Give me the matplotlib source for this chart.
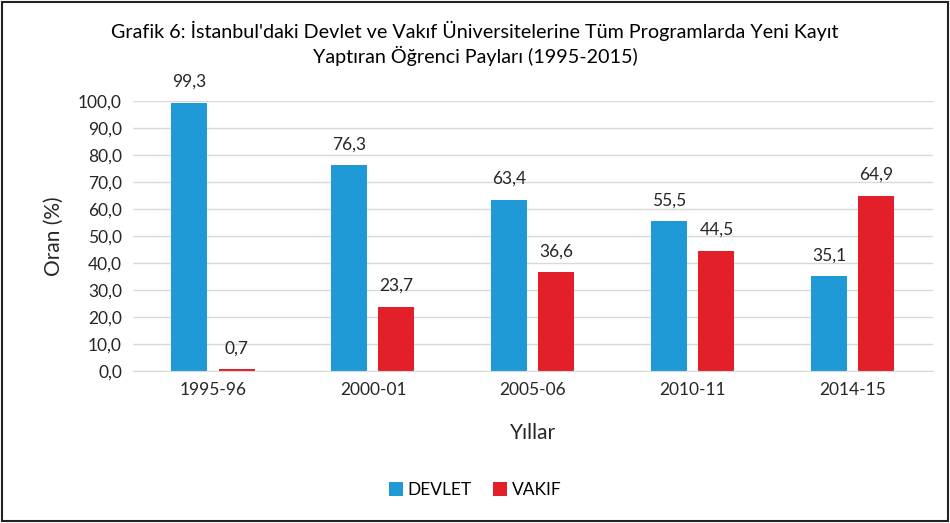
import matplotlib.pyplot as plt
import numpy as np
from matplotlib.patches import Rectangle

years = ['1995-96', '2000-01', '2005-06', '2010-11', '2014-15']
devlet = [99.3, 76.3, 63.4, 55.5, 35.1]
vakif = [0.7, 23.7, 36.6, 44.5, 64.9]

plt.rcParams['font.family'] = ['Lato', 'DejaVu Sans']

fig = plt.figure(figsize=(9.5, 5.23), dpi=100)
ax = fig.add_axes([0.14, 0.2906, 0.842, 0.516])

x = np.arange(len(years))
w = 0.225
b1 = ax.bar(x - 0.147, devlet, width=w, color='#1f9ad6', label='DEVLET')
b2 = ax.bar(x + 0.147, vakif, width=w, color='#e3202a', label='VAKIF')

for bars, vals in ((b1, devlet), (b2, vakif)):
    for r, v in zip(bars, vals):
        ax.text(r.get_x() + r.get_width() / 2, v + 4.8, f'{v:.1f}'.replace('.', ','),
                ha='center', va='bottom', fontsize=12.5, color='#262626')

ax.set_xlim(-0.5, 4.5)
ax.set_ylim(0, 100)
ax.set_yticks(np.arange(0, 101, 10))
ax.set_yticklabels([f'{t:.1f}'.replace('.', ',') for t in np.arange(0, 101, 10)])
ax.set_xticks(x)
ax.set_xticklabels(years)
ax.tick_params(axis='both', length=0, labelsize=12.5, colors='#262626', pad=8)
ax.grid(axis='y', color='#d9d9d9', linewidth=1)
ax.set_axisbelow(True)
for s in ['top', 'right', 'left']:
    ax.spines[s].set_visible(False)
ax.spines['bottom'].set_color('#d9d9d9')

ax.set_ylabel('Oran (%)', fontsize=15, color='#262626', labelpad=10)
ax.set_xlabel('Yıllar', fontsize=15, color='#262626', labelpad=18)

fig.suptitle("Grafik 6: İstanbul'daki Devlet ve Vakıf Üniversitelerine Tüm Programlarda Yeni Kayıt\nYaptıran Öğrenci Payları (1995-2015)",
             x=0.5, y=0.96, fontsize=14.2, color='#000000', linespacing=1.3)

fig.legend(handles=[b1, b2], loc='center', bbox_to_anchor=(0.5, 0.063), ncol=2, frameon=False,
           fontsize=12.5, handlelength=0.8, handleheight=0.8, columnspacing=1.2, handletextpad=0.3)

fig.patches.append(Rectangle((0.002, 0.003), 0.996, 0.994, transform=fig.transFigure,
                             fill=False, edgecolor='#222222', linewidth=1.5))

fig.savefig('out.png', dpi=100)
